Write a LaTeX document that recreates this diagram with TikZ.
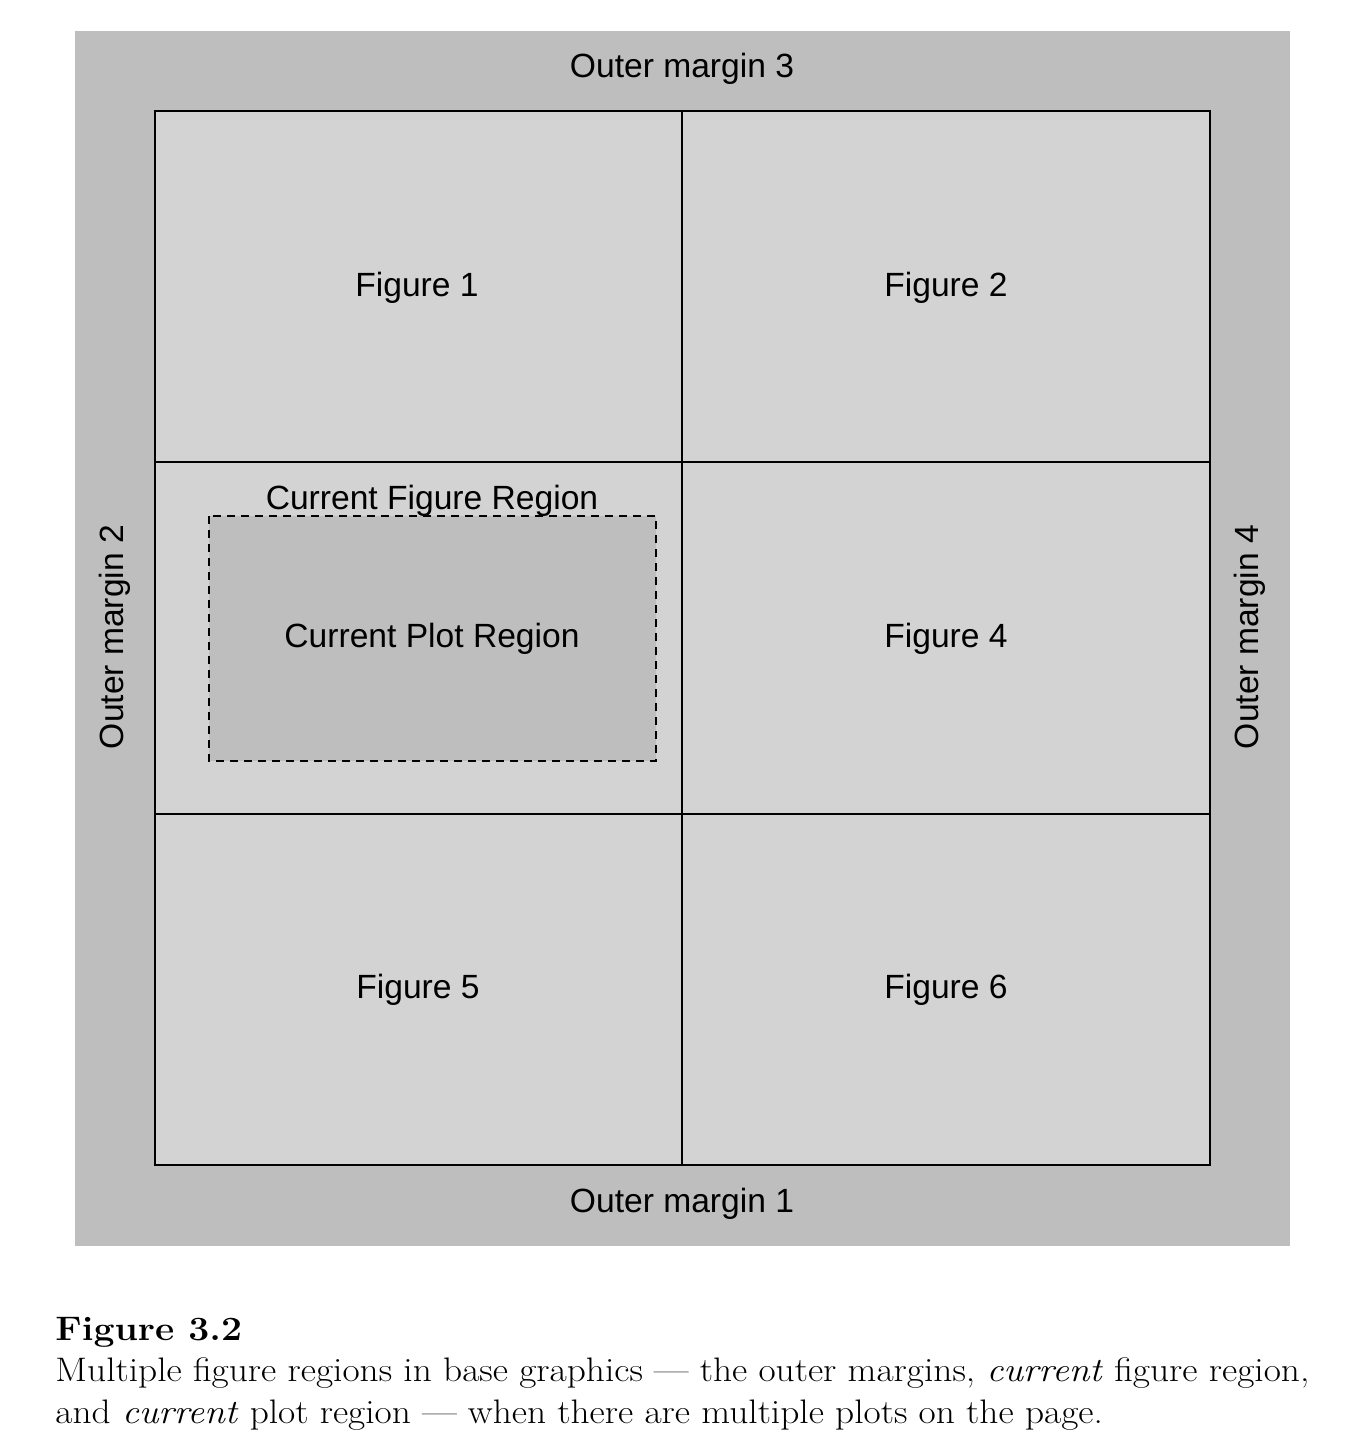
\documentclass[tikz,border=0pt]{standalone}
\usepackage{fontspec}
\newfontfamily\helv{Liberation Sans}
\definecolor{outergray}{RGB}{190,190,190}
\definecolor{cellgray}{RGB}{211,211,211}
\newcommand{\capstretch}[1]{\scalebox{1.099}[1]{#1}}
\begin{document}
\begin{tikzpicture}[x=0.5pt,y=-0.5pt,
  lab/.style={font=\helv\fontsize{16.8}{20}\selectfont, inner sep=0pt, text height=0.72em, text depth=0pt},
  cell/.style={draw=black, line width=1pt, fill=cellgray},
  captext/.style={anchor=base west, inner sep=0pt, font=\fontsize{17}{21}\selectfont}]
\useasboundingbox (0,0) rectangle (1352,1448);
\fill[white] (0,0) rectangle (1352,1448);
\fill[outergray] (75,31) rectangle (1290,1246);
\draw[cell] (155,111) rectangle (1210,1165);
\draw[line width=1pt] (682,111) -- (682,1165);
\draw[line width=1pt] (155,462) -- (1210,462);
\draw[line width=1pt] (155,814) -- (1210,814);
\draw[fill=outergray, line width=1pt, dash pattern=on 4pt off 3pt] (209,516) rectangle (656,761);
\node[lab] (om3) at (682,70) {Outer margin 3};
\node[lab] (om1) at (682,1205) {Outer margin 1};
\node[lab, rotate=90] (om2) at (116,637) {Outer margin 2};
\node[lab, rotate=90] (om4) at (1251,637) {Outer margin 4};
\node[lab] (f1) at (417,289) {Figure 1};
\node[lab] (f2) at (946,289) {Figure 2};
\node[lab] (cfr) at (432,502) {Current Figure Region};
\node[lab] (cpr) at (432,640) {Current Plot Region};
\node[lab] (f4) at (946,640) {Figure 4};
\node[lab] (f5) at (418,991) {Figure 5};
\node[lab] (f6) at (946,991) {Figure 6};
\node[captext] (c0) at (55,1340) {\capstretch{\bfseries Figure 3.2}};
\node[captext] (c1) at (55,1381) {\capstretch{Multiple figure regions in base graphics --- the outer margins, \emph{current} figure region,}};
\node[captext] (c2) at (55,1423) {\capstretch{and \emph{current} plot region --- when there are multiple plots on the page.}};
\end{tikzpicture}
\end{document}
